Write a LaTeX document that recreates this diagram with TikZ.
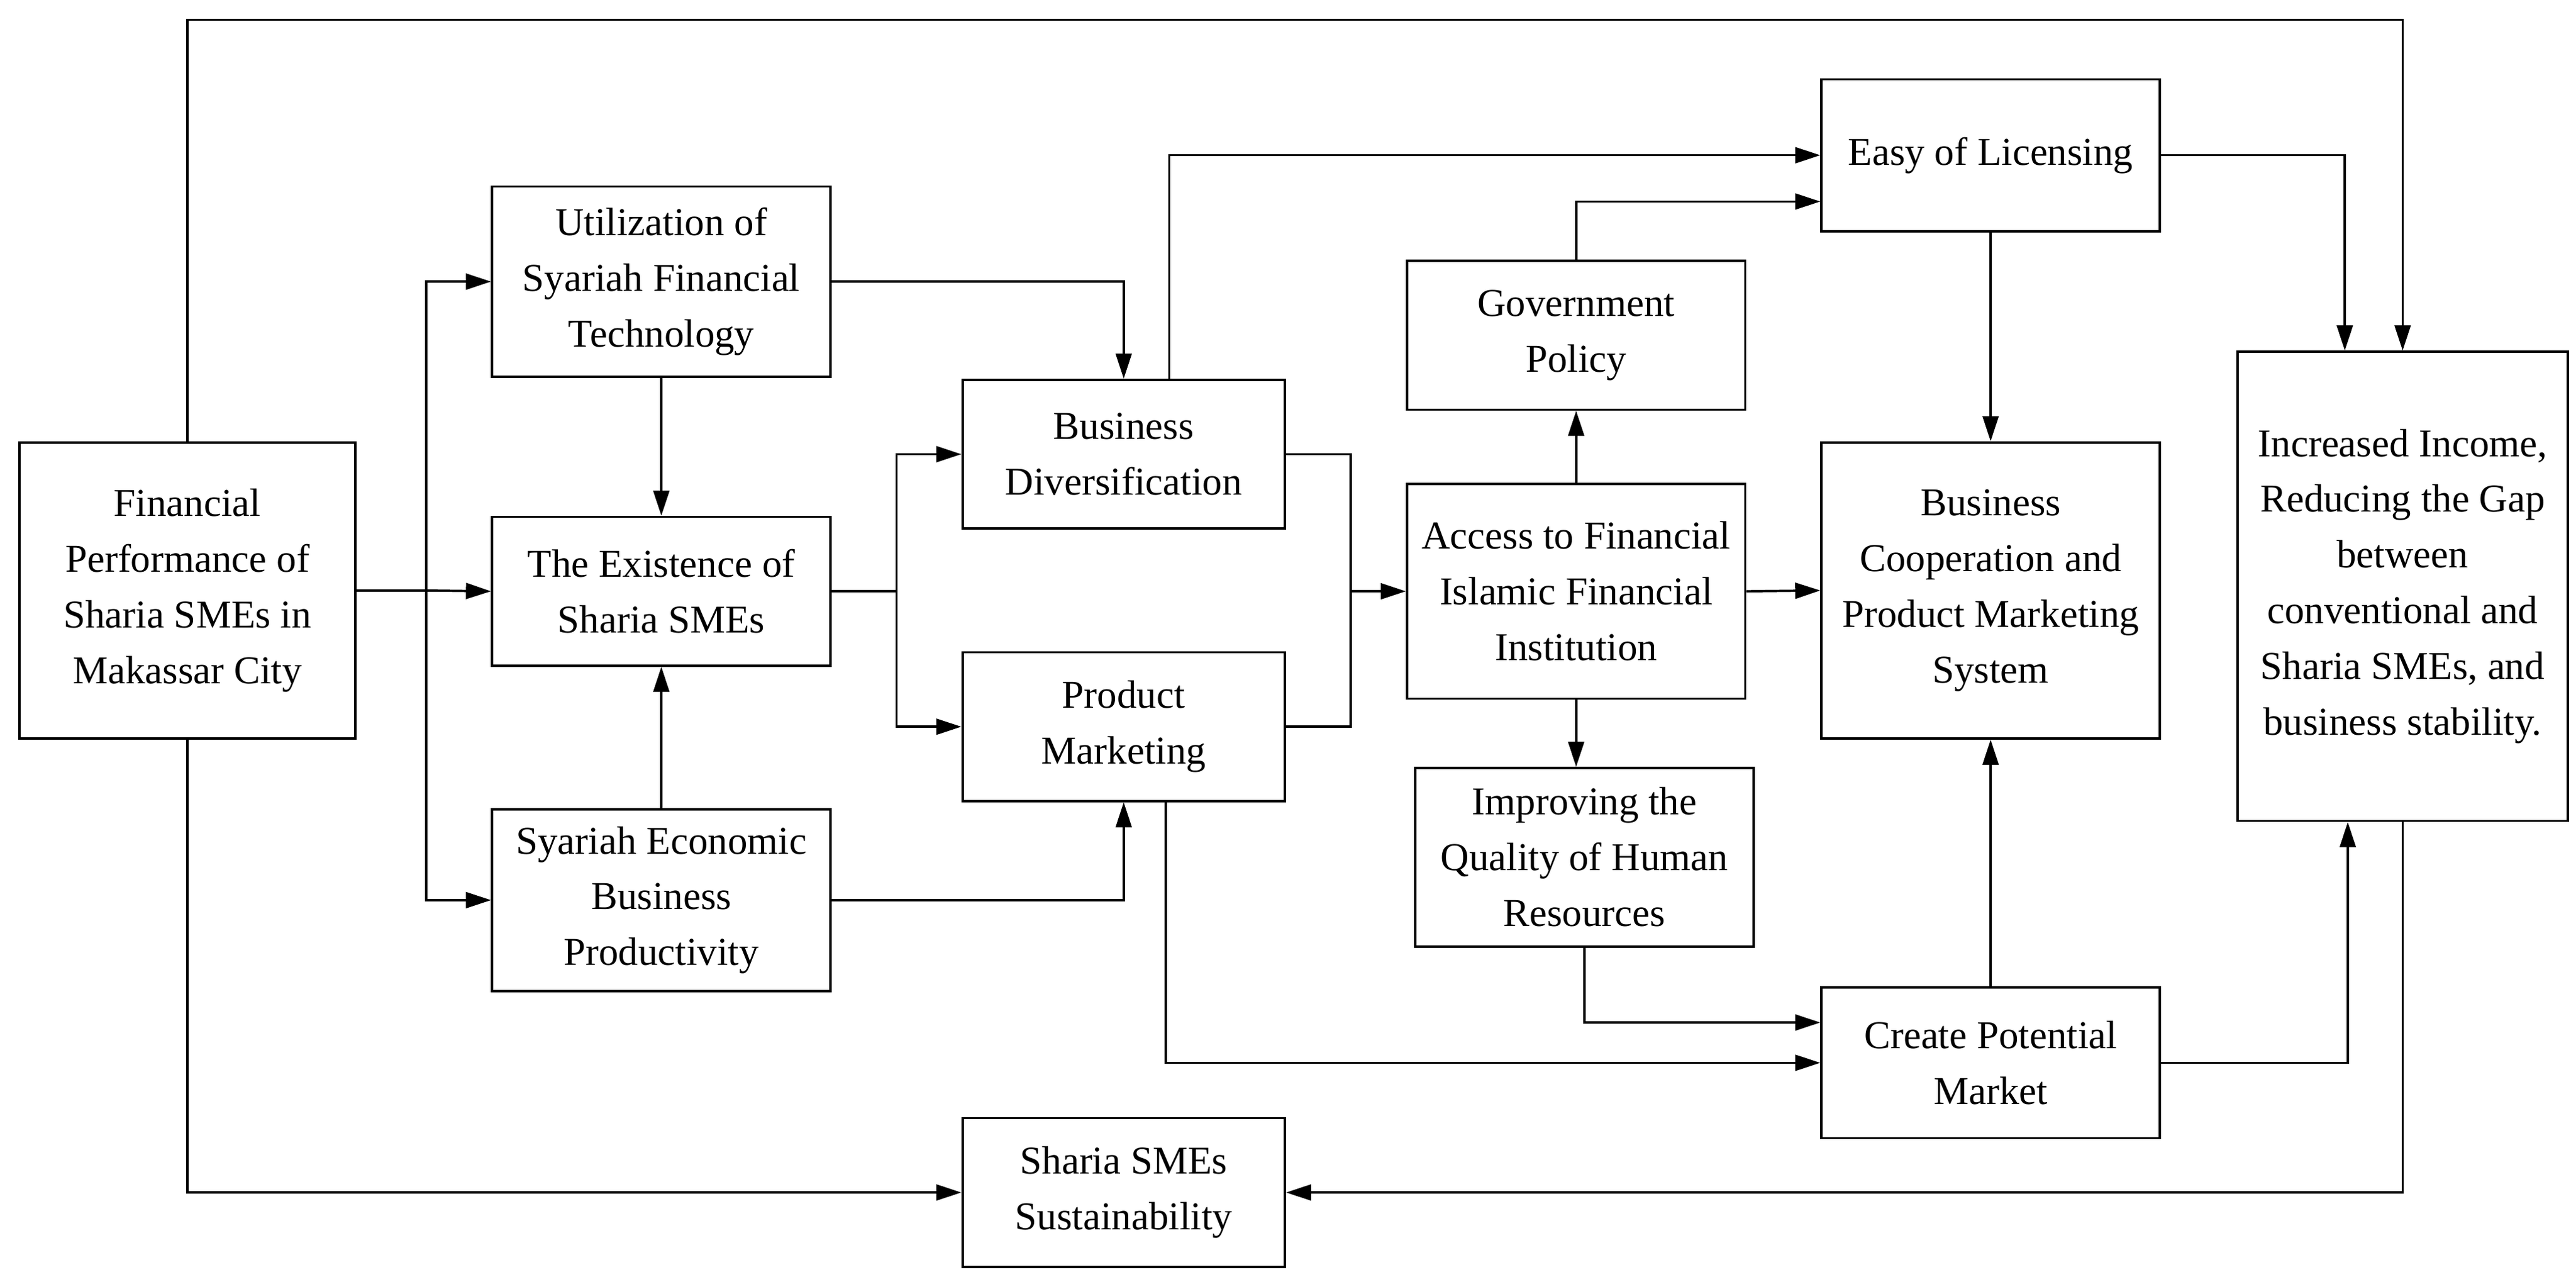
\documentclass[tikz,border=0pt]{standalone}
\usepackage{fontspec}
\setmainfont{Liberation Serif}
\usetikzlibrary{arrows.meta}
\begin{document}
\begin{tikzpicture}[x=0.025cm,y=-0.025cm,
  box/.style={draw,line width=1pt,align=center,inner sep=0pt,font=\fontsize{17}{24}\selectfont},
  arr/.style={line width=1pt,-{Triangle[length=3.8mm,width=2.4mm]}},
  ln/.style={line width=1pt}]
\useasboundingbox (0,0) rectangle (1560,773);
% boxes
\node[box,minimum width=5.08cm,minimum height=4.48cm] (fin) at (113.5,357.5) {Financial\\Performance of\\Sharia SMEs in\\Makassar City};
\node[box,minimum width=5.12cm,minimum height=2.88cm] (util) at (400.5,170.5) {Utilization of\\Syariah Financial\\Technology};
\node[box,minimum width=5.12cm,minimum height=2.25cm] (exist) at (400.5,358) {The Existence of\\Sharia SMEs};
\node[box,minimum width=5.12cm,minimum height=2.75cm] (econ) at (400.5,545) {Syariah Economic\\Business\\Productivity};
\node[box,minimum width=4.88cm,minimum height=2.25cm] (div) at (680.5,275) {Business\\Diversification};
\node[box,minimum width=4.88cm,minimum height=2.25cm] (mkt) at (680.5,440) {Product\\Marketing};
\node[box,minimum width=5.12cm,minimum height=2.25cm] (gov) at (954.5,203) {Government\\Policy};
\node[box,minimum width=5.12cm,minimum height=3.25cm] (acc) at (954.5,358) {Access to Financial\\Islamic Financial\\Institution};
\node[box,minimum width=5.12cm,minimum height=2.7cm] (hum) at (959.5,519) {Improving the\\Quality of Human\\Resources};
\node[box,minimum width=5.12cm,minimum height=2.3cm] (lic) at (1205.5,94) {Easy of Licensing};
\node[box,minimum width=5.12cm,minimum height=4.48cm] (coop) at (1205.5,357.5) {Business\\Cooperation and\\Product Marketing\\System};
\node[box,minimum width=5.12cm,minimum height=2.28cm] (pot) at (1205.5,643.5) {Create Potential\\Market};
\node[box,minimum width=5cm,minimum height=7.1cm] (inc) at (1455,355) {Increased Income,\\Reducing the Gap\\between\\conventional and\\Sharia SMEs, and\\business stability.};
\node[box,minimum width=4.88cm,minimum height=2.25cm] (sus) at (680.5,722) {Sharia SMEs\\Sustainability};
% helper points
\coordinate (topR) at (1455,12);
\coordinate (b1) at (258,357.5);
\coordinate (b2) at (543,358);
\coordinate (b3) at (818,358);
% outer loop
\draw[arr] (fin.north) |- (topR) -- (inc.north);
\draw[arr] (fin.south) |- (sus.west);
\draw[arr] (inc.south) |- (sus.east);
% left part
\draw[ln] (fin.east) -- (b1);
\draw[arr] (b1) |- (util.west);
\draw[arr] (b1) -- (exist.west);
\draw[arr] (b1) |- (econ.west);
\draw[arr] (util.south) -- (exist.north);
\draw[arr] (econ.north) -- (exist.south);
\draw[arr] (util.east) -| (div.north);
\draw[ln] (exist.east) -- (b2);
\draw[arr] (b2) |- (div.west);
\draw[arr] (b2) |- (mkt.west);
\draw[arr] (econ.east) -| (mkt.south);
% middle
\draw[ln] (div.east) -| (b3);
\draw[ln] (mkt.east) -| (b3);
\draw[arr] (b3) -- (acc.west);
\draw[arr] ([xshift=0.69cm]div.north) |- (lic.west);
\draw[arr] (gov.north) |- ([yshift=-0.7cm]lic.west);
\draw[arr] (acc.north) -- (gov.south);
\draw[arr] (acc.south) -- (acc.south |- hum.north);
\draw[arr] (acc.east) -- (coop.west);
% right part
\draw[arr] (lic.south) -- (coop.north);
\draw[arr] (lic.east) -| ([xshift=-0.875cm]inc.north);
\draw[arr] (hum.south) |- ([yshift=0.61cm]pot.west);
\draw[arr] ([xshift=0.64cm]mkt.south) |- (pot.west);
\draw[arr] (pot.north) -- (coop.south);
\draw[arr] (pot.east) -| ([xshift=-0.83cm]inc.south);
\end{tikzpicture}
\end{document}
